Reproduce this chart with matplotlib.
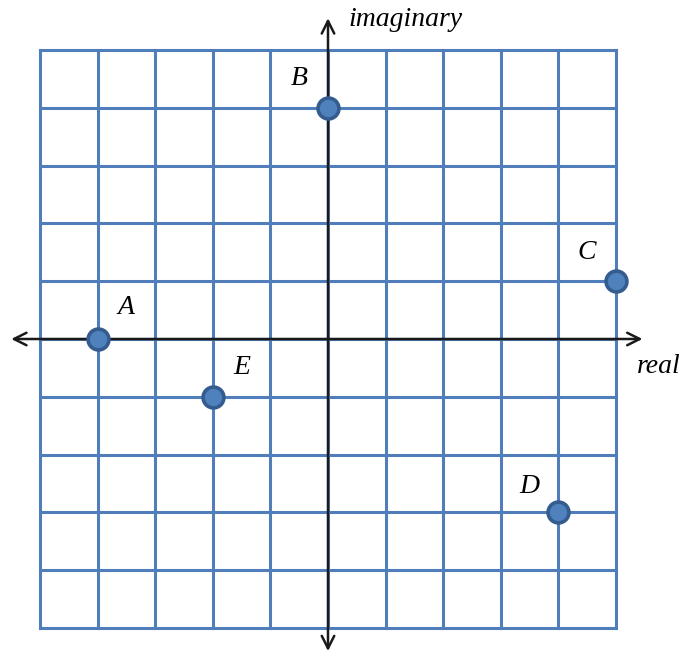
import matplotlib.pyplot as plt

# complex numbers plotted on the plane
labels = ["A", "B", "C", "D", "E"]
re_vals = [-4, 0, 5, 4, -2]
im_vals = [0, 4, 1, -3, -1]

# label offsets (in grid units) relative to each point
lab_dx = [0.5, -0.5, -0.5, -0.5, 0.5]
lab_dy = [0.55, 0.5, 0.5, 0.45, 0.5]

grid_min, grid_max = -5, 5

fig = plt.figure(figsize=(6.85, 6.53), dpi=100)
ax = fig.add_axes([0, 0, 1, 1])
ax.set_xlim(-328 / 57.6, (685 - 328) / 57.6)
ax.set_ylim(-(653 - 339) / 57.8, 339 / 57.8)
ax.axis("off")

grid_color = "#4F7EBA"
for k in range(grid_min, grid_max + 1):
    ax.plot([k, k], [grid_min, grid_max], color=grid_color, lw=2.2, solid_capstyle="projecting", zorder=1)
    ax.plot([grid_min, grid_max], [k, k], color=grid_color, lw=2.2, solid_capstyle="projecting", zorder=1)

# axes with open arrow heads
arrow = dict(arrowstyle="<->,head_length=0.9,head_width=0.45", color="#1a1a1a", lw=1.8, shrinkA=0, shrinkB=0)
ax.annotate("", xy=(-5.5, 0), xytext=(5.46, 0), arrowprops=arrow, zorder=2, annotation_clip=False)
ax.annotate("", xy=(0, -5.4), xytext=(0, 5.55), arrowprops=arrow, zorder=2, annotation_clip=False)

ax.plot(re_vals, im_vals, "o", ms=15, mfc="#4F81BD", mec="#355C8E", mew=2.6, zorder=3)

font = dict(family="Liberation Serif", style="italic", fontsize=20)
for lab, x, y, dx, dy in zip(labels, re_vals, im_vals, lab_dx, lab_dy):
    ax.text(x + dx, y + dy, lab, ha="center", va="center", **font)

ax.text(0.35, 5.53, "imaginary", ha="left", va="center", **font)
ax.text(5.37, -0.47, "real", ha="left", va="center", **font)

fig.savefig("out.png", dpi=100)
